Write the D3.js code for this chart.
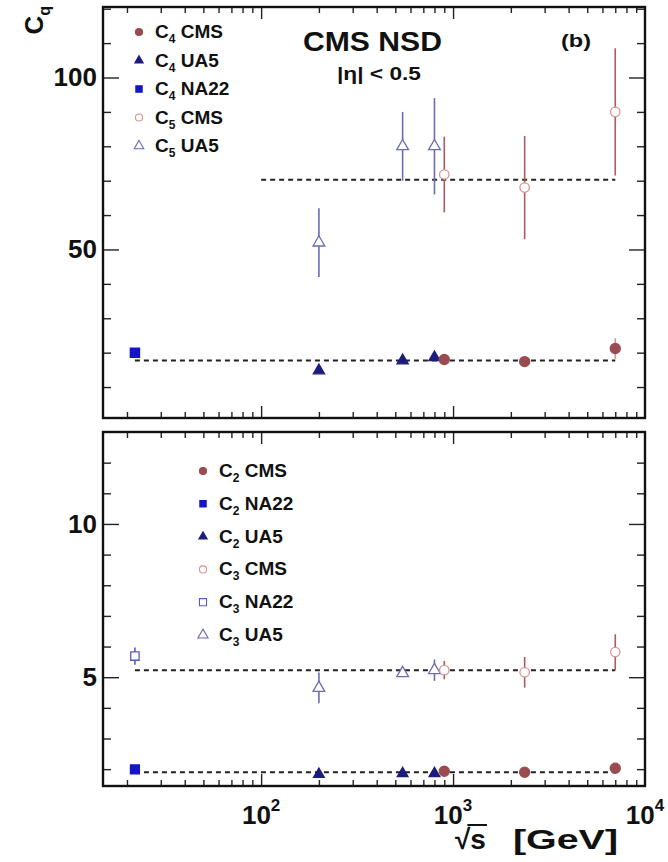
<!DOCTYPE html>
<html>
<head>
<meta charset="utf-8">
<script src="https://cdn.jsdelivr.net/npm/d3@7"></script>
<style>
body { margin: 0; background: #fff; }
text { font-family: "Liberation Sans", Arial, sans-serif; font-weight: bold; fill: #111; }
</style>
</head>
<body>
<svg id="chart" width="668" height="862"></svg>
<script>
// sqrt(s) in GeV, UA5 900 GeV point is drawn a bit left of the CMS one
var naEnergy = [22];
var ua5Energy = [200, 546, 800];
var cmsEnergy = [900, 2360, 7000];

// top panel: C4 and C5
var c4CMS = [18.0, 17.4, 21.2], c4CMSErr = [1.0, 1.0, 3.0];
var c4UA5 = [14.8, 17.7, 18.6], c4UA5Err = [0.8, 0.8, 1.0];
var c4NA22 = [20.0], c4NA22Err = [1.0];
var c5CMS = [71.8, 68.0, 90.0], c5CMSErr = [11, 15, 18.5];
var c5UA5 = [52, 80, 80], c5UA5Err = [10, 10, 14];
var c4Mean = 17.7, c5Mean = 70.3;

// bottom panel: C2 and C3
var c2CMS = [1.93, 1.90, 2.03], c2CMSErr = [0.03, 0.03, 0.05];
var c2NA22 = [1.99], c2NA22Err = [0.02];
var c2UA5 = [1.83, 1.86, 1.86], c2UA5Err = [0.02, 0.02, 0.02];
var c3CMS = [5.23, 5.16, 5.82], c3CMSErr = [0.30, 0.50, 0.58];
var c3NA22 = [5.69], c3NA22Err = [0.28];
var c3UA5 = [4.65, 5.13, 5.23], c3UA5Err = [0.50, 0.10, 0.35];
var c2Mean = 1.90, c3Mean = 5.23;

// axis ticks
var xMajor = [100, 1000, 10000];
var xMinor = [20, 30, 40, 50, 60, 70, 80, 90, 200, 300, 400, 500, 600, 700, 800, 900,
              2000, 3000, 4000, 5000, 6000, 7000, 8000, 9000];
var xLabels = ["2", "3", "4"];
var topMajor = [50, 100];
var topMinor = [10, 20, 30, 40, 60, 70, 80, 90, 110, 120];
var botMajor = [5, 10];
var botMinor = [2, 3, 4, 6, 7, 8, 9, 11, 12];

// colours
var cmsFill = '#9a4c50', cmsOpen = '#d99494', cmsErr = '#a85c5c';
var ua5Fill = '#1c1c7e', ua5Open = '#6b6bb8';
var naFill = '#1414c8', naOpen = '#5a5abf';

var svg = d3.select('#chart');
var left = 103, right = 645;

var x = d3.scaleLog().domain([15, 10000]).range([left, right]);
var yTop = d3.scaleLinear().domain([1, 120.5]).range([418, 7]);
var yBot = d3.scaleLinear().domain([1.45, 13.0]).range([786, 432]);

function drawFrame(y, major, minor) {
  var y0 = y.range()[0], y1 = y.range()[1];
  var g = svg.append('g');
  // y ticks, inward, both sides
  g.append('g').attr('transform', 'translate(' + left + ',0)')
    .call(d3.axisLeft(y).tickValues(major).tickSize(-16).tickPadding(6).tickFormat(d3.format('d')))
    .call(function(a) {
      a.select('.domain').remove();
      a.selectAll('text').style('font-size', '26px').attr('fill', '#111');
    });
  g.append('g').attr('transform', 'translate(' + left + ',0)')
    .call(d3.axisLeft(y).tickValues(minor).tickSize(-8).tickFormat(''))
    .select('.domain').remove();
  g.append('g').attr('transform', 'translate(' + right + ',0)')
    .call(d3.axisRight(y).tickValues(major).tickSize(-16).tickFormat(''))
    .select('.domain').remove();
  g.append('g').attr('transform', 'translate(' + right + ',0)')
    .call(d3.axisRight(y).tickValues(minor).tickSize(-8).tickFormat(''))
    .select('.domain').remove();
  // x ticks, inward, bottom and top
  [[y0, d3.axisBottom], [y1, d3.axisTop]].forEach(function(s) {
    g.append('g').attr('transform', 'translate(0,' + s[0] + ')')
      .call(s[1](x).tickValues(xMajor.filter(function(d) { return d < 10000; })).tickSize(-12).tickFormat(''))
      .select('.domain').remove();
    g.append('g').attr('transform', 'translate(0,' + s[0] + ')')
      .call(s[1](x).tickValues(xMinor).tickSize(-6).tickFormat(''))
      .select('.domain').remove();
  });
  g.selectAll('.tick line').attr('stroke', '#222').attr('stroke-width', 1.4);
  g.append('rect')
    .attr('x', left).attr('y', y1)
    .attr('width', right - left).attr('height', y0 - y1)
    .attr('fill', 'none').attr('stroke', '#111').attr('stroke-width', 2.4);
}

function meanLine(y, val, from, to) {
  svg.append('line')
    .attr('x1', x(from)).attr('x2', x(to))
    .attr('y1', y(val)).attr('y2', y(val))
    .attr('stroke', '#222').attr('stroke-width', 2)
    .attr('stroke-dasharray', '5,4');
}

function series(y, xs, vals, errs, shape, size, fill, stroke, errColor) {
  var g = svg.append('g');
  var data = xs.map(function(e, i) { return { e: e, v: vals[i], err: errs[i] }; });
  g.selectAll('line').data(data).enter().append('line')
    .attr('x1', function(d) { return x(d.e); })
    .attr('x2', function(d) { return x(d.e); })
    .attr('y1', function(d) { return y(d.v - d.err); })
    .attr('y2', function(d) { return y(d.v + d.err); })
    .attr('stroke', errColor).attr('stroke-width', 1.6);
  g.selectAll('path').data(data).enter().append('path')
    .attr('transform', function(d) { return 'translate(' + x(d.e) + ',' + y(d.v) + ')'; })
    .attr('d', d3.symbol().type(shape).size(size))
    .attr('fill', fill).attr('stroke', stroke).attr('stroke-width', 1.3);
}

function legend(entries, lx, ly, step) {
  var g = svg.append('g');
  entries.forEach(function(e, i) {
    var yy = ly + i * step;
    g.append('path')
      .attr('transform', 'translate(' + lx + ',' + yy + ')')
      .attr('d', d3.symbol().type(e.shape).size(e.size))
      .attr('fill', e.fill).attr('stroke', e.stroke).attr('stroke-width', 1.1);
    var t = g.append('text').attr('x', lx + 16).attr('y', yy + 6).style('font-size', '19px');
    t.append('tspan').text('C');
    t.append('tspan').attr('dy', 5).style('font-size', '12px').text(e.q);
    t.append('tspan').attr('dy', -5).text(' ' + e.name);
  });
}

// frames and ticks
drawFrame(yTop, topMajor, topMinor);
drawFrame(yBot, botMajor, botMinor);

// top panel
meanLine(yTop, c4Mean, 22, 7000);
meanLine(yTop, c5Mean, 100, 7000);
series(yTop, ua5Energy, c5UA5, c5UA5Err, d3.symbolTriangle, 60, '#fff', ua5Open, ua5Open);
series(yTop, cmsEnergy, c5CMS, c5CMSErr, d3.symbolCircle, 70, '#fff', cmsOpen, cmsErr);
series(yTop, naEnergy, c4NA22, c4NA22Err, d3.symbolSquare, 85, naFill, naFill, naFill);
series(yTop, ua5Energy, c4UA5, c4UA5Err, d3.symbolTriangle, 55, ua5Fill, ua5Fill, ua5Fill);
series(yTop, cmsEnergy, c4CMS, c4CMSErr, d3.symbolCircle, 80, cmsFill, cmsFill, cmsOpen);

// bottom panel
meanLine(yBot, c2Mean, 22, 7000);
meanLine(yBot, c3Mean, 22, 7000);
series(yBot, naEnergy, c3NA22, c3NA22Err, d3.symbolSquare, 70, '#fff', naOpen, naOpen);
series(yBot, ua5Energy, c3UA5, c3UA5Err, d3.symbolTriangle, 60, '#fff', ua5Open, ua5Open);
series(yBot, cmsEnergy, c3CMS, c3CMSErr, d3.symbolCircle, 70, '#fff', cmsOpen, cmsErr);
series(yBot, naEnergy, c2NA22, c2NA22Err, d3.symbolSquare, 80, naFill, naFill, naFill);
series(yBot, ua5Energy, c2UA5, c2UA5Err, d3.symbolTriangle, 50, ua5Fill, ua5Fill, ua5Fill);
series(yBot, cmsEnergy, c2CMS, c2CMSErr, d3.symbolCircle, 80, cmsFill, cmsFill, cmsOpen);

// legends
legend([
  { q: '4', name: 'CMS', shape: d3.symbolCircle, size: 40, fill: cmsFill, stroke: cmsFill },
  { q: '4', name: 'UA5', shape: d3.symbolTriangle, size: 30, fill: ua5Fill, stroke: ua5Fill },
  { q: '4', name: 'NA22', shape: d3.symbolSquare, size: 40, fill: naFill, stroke: naFill },
  { q: '5', name: 'CMS', shape: d3.symbolCircle, size: 40, fill: '#fff', stroke: cmsOpen },
  { q: '5', name: 'UA5', shape: d3.symbolTriangle, size: 40, fill: '#fff', stroke: ua5Open }
], 139, 32, 28.5);

legend([
  { q: '2', name: 'CMS', shape: d3.symbolCircle, size: 40, fill: cmsFill, stroke: cmsFill },
  { q: '2', name: 'NA22', shape: d3.symbolSquare, size: 40, fill: naFill, stroke: naFill },
  { q: '2', name: 'UA5', shape: d3.symbolTriangle, size: 30, fill: ua5Fill, stroke: ua5Fill },
  { q: '3', name: 'CMS', shape: d3.symbolCircle, size: 40, fill: '#fff', stroke: cmsOpen },
  { q: '3', name: 'NA22', shape: d3.symbolSquare, size: 50, fill: '#fff', stroke: naOpen },
  { q: '3', name: 'UA5', shape: d3.symbolTriangle, size: 45, fill: '#fff', stroke: ua5Open }
], 203, 471, 32.8);

// titles
svg.append('text').attr('x', 303).attr('y', 51)
  .attr('textLength', 139).attr('lengthAdjust', 'spacingAndGlyphs')
  .style('font-size', '27px').text('CMS NSD');
svg.append('text').attr('x', 337).attr('y', 80)
  .attr('textLength', 84).attr('lengthAdjust', 'spacingAndGlyphs')
  .style('font-size', '19px').text('|η| < 0.5');
svg.append('text').attr('x', 561).attr('y', 47)
  .attr('textLength', 30).attr('lengthAdjust', 'spacingAndGlyphs')
  .style('font-size', '19px').text('(b)');

// y title
var yt = svg.append('text').attr('transform', 'translate(43,6) rotate(-90)')
  .attr('text-anchor', 'end').style('font-size', '26px');
yt.append('tspan').text('C');
yt.append('tspan').attr('dy', 7).style('font-size', '16px').text('q');

// x tick labels
svg.append('g').selectAll('text').data(xMajor).enter().append('text')
  .attr('x', function(d) { return x(d); })
  .attr('y', 824)
  .attr('text-anchor', 'middle')
  .style('font-size', '26px')
  .each(function(d, i) {
    var t = d3.select(this);
    t.append('tspan').text('10');
    t.append('tspan').attr('dy', -13).style('font-size', '17px').text(xLabels[i]);
  });

// x title: sqrt(s) with a bar over s, then the unit
var xt = svg.append('text').attr('x', 455).attr('y', 849).style('font-size', '28px').text('√s');
var n = xt.node();
var s0 = n.getStartPositionOfChar(1).x, s1 = n.getEndPositionOfChar(1).x;
var rootX = n.getStartPositionOfChar(0).x + n.getSubStringLength(0, 1);
svg.append('line')
  .attr('x1', rootX - 3).attr('x2', s1 + 1)
  .attr('y1', 825).attr('y2', 825)
  .attr('stroke', '#111').attr('stroke-width', 2);
svg.append('text').attr('x', 513).attr('y', 849)
  .attr('textLength', 105).attr('lengthAdjust', 'spacingAndGlyphs')
  .style('font-size', '28px').text('[GeV]');
</script>
</body>
</html>
